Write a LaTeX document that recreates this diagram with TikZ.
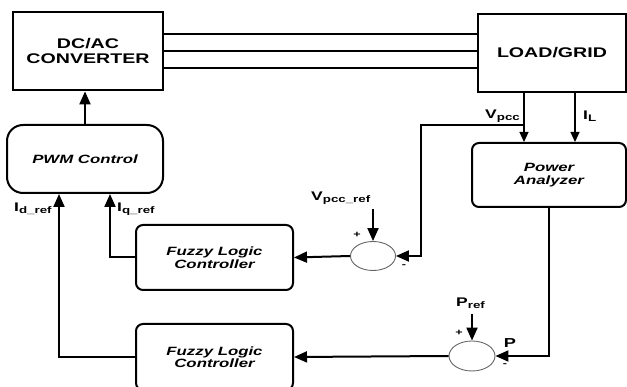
\documentclass[tikz,border=0pt]{standalone}
\usepackage{fontspec}
\setmainfont[FakeStretch=1.4]{Liberation Sans}
\usetikzlibrary{arrows.meta,shapes.geometric,calc}
\newcommand{\sublbl}[2]{\textbf{#1}\raisebox{-2.4pt}{\fontsize{9.5}{10}\selectfont\bfseries #2}}
\tikzset{
  bigbox/.style={draw, line width=2.8pt, minimum width=150pt, minimum height=78pt, align=center,
    font=\fontsize{14}{15.5}\selectfont\bfseries},
  rbox/.style={draw, line width=2pt, rounded corners=7pt, align=center,
    font=\fontsize{12}{12.5}\selectfont\bfseries\itshape},
  sumnode/.style={draw=black!60, line width=0.9pt, ellipse, minimum width=45pt, minimum height=29pt, inner sep=0pt},
  arr/.style={line width=2pt, -{Triangle[length=13pt,width=11pt]}},
  thinarr/.style={line width=1.1pt, -{Triangle[length=10pt,width=9pt]}},
  lbl/.style={inner sep=0pt, font=\fontsize{12.5}{13}\selectfont},
  sgn/.style={inner sep=0pt, font=\fontsize{9}{10}\selectfont\bfseries}
}
\begin{document}
\begin{tikzpicture}[x=1pt,y=-1pt]
\useasboundingbox (0,0) rectangle (627,387);
\clip (0,0) rectangle (627,387);
\fill[white] (0,0) rectangle (627,387);
% blocks
\node[bigbox] (dcac) at (88,51) {DC/AC\\CONVERTER};
\node[bigbox, minimum width=148pt] (load) at (552,53) {LOAD/GRID};
\node[rbox, rounded corners=16pt, minimum width=156pt, minimum height=68pt] (pwm) at (85,159) {PWM Control};
\node[rbox, minimum width=154pt, minimum height=64pt] (pa) at (549,175) {Power\\Analyzer};
\node[rbox, minimum width=157pt, minimum height=65pt] (flc1) at (214.5,257.5) {Fuzzy Logic\\Controller};
\node[rbox, minimum width=157pt, minimum height=66pt] (flc2) at (214.5,357) {Fuzzy Logic\\Controller};
\node[sumnode] (s1) at (373,256) {};
\node[sumnode, minimum width=46pt, minimum height=30pt] (s2) at (472,356) {};
% coordinates
\coordinate (vx) at (524,0);
\coordinate (ilx) at (575,0);
\coordinate (br) at (524,125);
\coordinate (c1) at (421,125);
\coordinate (vr) at (373,209);
\coordinate (pr) at (472,314);
% three-phase lines
\foreach \dy in {17,0,-17}
  \draw[line width=2.4pt] ([yshift=\dy pt]dcac.east) -- ([yshift=\dy pt]dcac.east -| load.west);
% connectors
\draw[arr] (pwm.north) -- (pwm.north |- dcac.south);
\draw[thinarr] (load.south -| vx) -- (pa.north -| vx);
\draw[thinarr] (load.south -| ilx) -- (pa.north -| ilx);
\draw[arr] (br) -- (c1) -- (c1 |- s1.east) -- (s1.east);
\draw[arr] (vr) -- (s1.north);
\draw[arr] (s1.west) -- (flc1.east);
\draw[arr] (flc1.west) -| ([xshift=25pt]pwm.south);
\draw[arr] (pa.south) |- (s2.east);
\draw[arr] (pr) -- (s2.north);
\draw[arr] (s2.west) -- (flc2.east);
\draw[arr] (flc2.west) -| ([xshift=-26pt]pwm.south);
% labels
\node[lbl, anchor=west] (lid) at (14,209) {\sublbl{I}{d\_ref}};
\node[lbl, anchor=west] (liq) at (117,209) {\sublbl{I}{q\_ref}};
\node[lbl, anchor=west] (lvpcc) at (485,116) {\sublbl{V}{pcc}};
\node[lbl, anchor=west] (lil) at (583,116) {\sublbl{I}{L}};
\node[lbl, anchor=west] (lvref) at (311,198) {\sublbl{V}{pcc\_ref}};
\node[lbl, anchor=west] (lpref) at (456,303) {\sublbl{P}{ref}};
\node[lbl, font=\fontsize{13}{14}\selectfont\bfseries] (lp) at (510,343) {P};
\node[sgn] (p1) at (357,235) {+};
\node[sgn] (m1) at (404,266) {-};
\node[sgn] (p2) at (459,333) {+};
\node[sgn] (m2) at (505,365) {-};
\end{tikzpicture}
\end{document}
